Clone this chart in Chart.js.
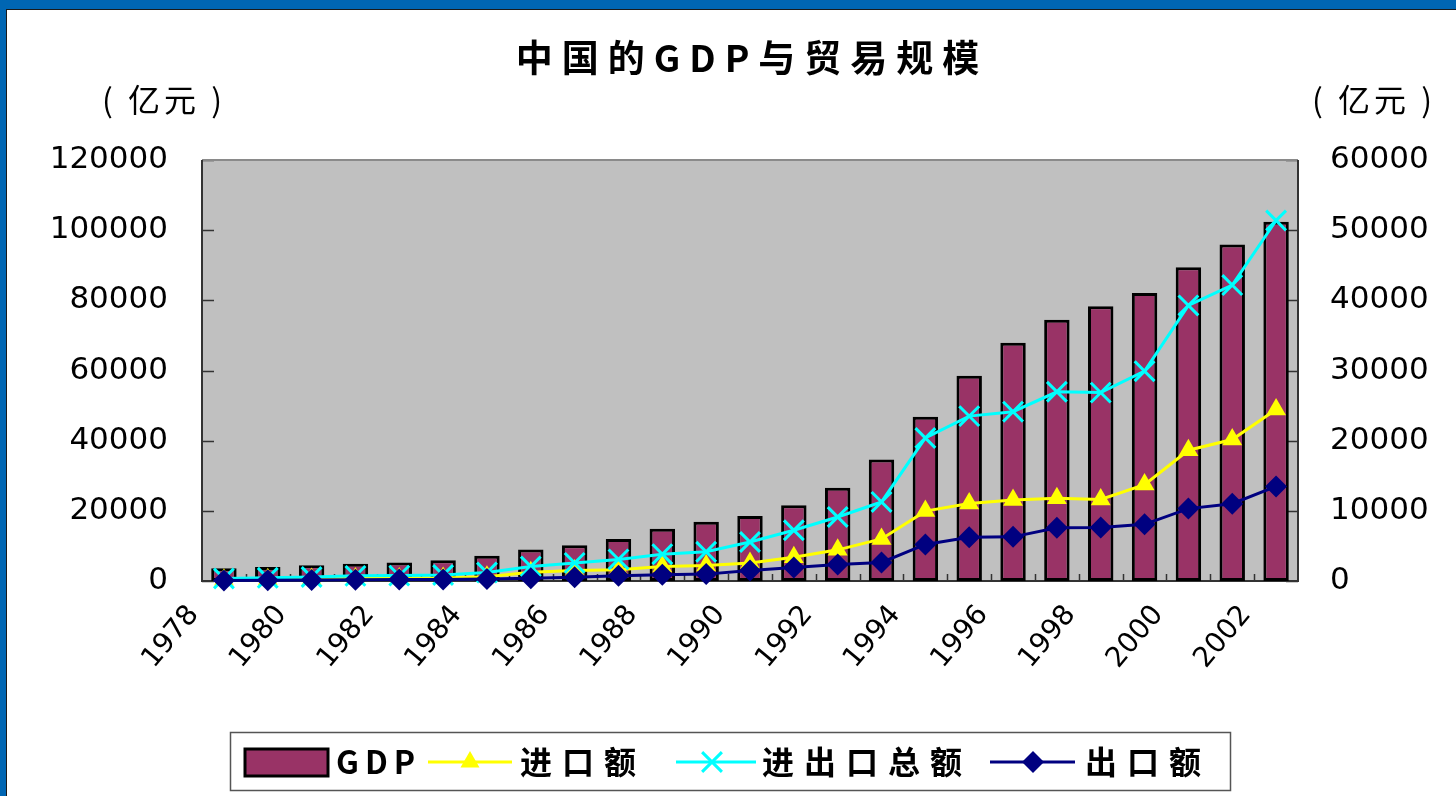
<!DOCTYPE html>
<html>
<head>
<meta charset="utf-8">
<script src="https://cdn.jsdelivr.net/npm/chart.js@4.4.1/dist/chart.umd.min.js"></script>
<style>
html,body{margin:0;padding:0;background:#fff;overflow:hidden;}
#c{display:block;}
</style>
</head>
<body>
<canvas id="c" width="1456" height="796"></canvas>
<script>
// ---- data ----
const years = ['1978','1979','1980','1981','1982','1983','1984','1985','1986','1987','1988','1989','1990','1991','1992','1993','1994','1995','1996','1997','1998','1999','2000','2001','2002'];
const gdp = [3600, 4000, 4500, 4900, 5300, 5900, 7200, 9000, 10200, 12000, 14900, 16900, 18500, 21600, 26600, 34600, 46800, 58500, 67900, 74500, 78300, 82100, 89400, 95900, 102400];
const imports = [190, 240, 300, 370, 360, 420, 620, 1260, 1500, 1610, 2060, 2200, 2570, 3400, 4440, 5990, 9960, 11050, 11560, 11810, 11630, 13740, 18640, 20160, 24430];
const totalTrade = [355, 455, 570, 735, 770, 860, 1200, 2070, 2580, 3080, 3820, 4160, 5560, 7230, 9120, 11270, 20380, 23500, 24130, 26970, 26850, 29900, 39270, 42180, 51380];
const exportsV = [170, 210, 270, 370, 410, 440, 580, 810, 1080, 1470, 1770, 1960, 2990, 3830, 4680, 5280, 10420, 12450, 12580, 15160, 15220, 16160, 20630, 22020, 26950];
const titleText = '中国的GDP与贸易规模';
const unitText = '( 亿元 )';
const seriesNames = ['GDP', '进口额', '进出口总额', '出口额'];

const C_BAR = '#993366', C_IMP = '#FFFF00', C_TOT = '#00FFFF', C_EXP = '#000080';
const CJK = '"Noto Sans CJK SC", "Noto Sans", sans-serif';

function drawMarker(ctx, style, x, y, r, color) {
  ctx.save();
  ctx.fillStyle = color; ctx.strokeStyle = color;
  ctx.beginPath();
  if (style === 'triangle') {
    ctx.moveTo(x, y - r);
    ctx.lineTo(x + r * Math.sin(Math.PI/3), y + r/2);
    ctx.lineTo(x - r * Math.sin(Math.PI/3), y + r/2);
    ctx.closePath(); ctx.fill();
  } else if (style === 'rectRot') {
    ctx.moveTo(x, y - r); ctx.lineTo(x + r, y); ctx.lineTo(x, y + r); ctx.lineTo(x - r, y);
    ctx.closePath(); ctx.fill();
  } else if (style === 'crossRot') {
    const d = r * Math.SQRT1_2;
    ctx.lineWidth = 3;
    ctx.moveTo(x - d, y - d); ctx.lineTo(x + d, y + d);
    ctx.moveTo(x + d, y - d); ctx.lineTo(x - d, y + d);
    ctx.stroke();
  }
  ctx.restore();
}

const decor = {
  id: 'decor',
  beforeDraw(chart) {
    const ctx = chart.ctx;
    ctx.save();
    ctx.fillStyle = '#0066B3';
    ctx.fillRect(0, 0, 1456, 796);
    ctx.fillStyle = '#1a1a1a';
    ctx.fillRect(6, 9, 1450, 787);
    ctx.fillStyle = '#ffffff';
    ctx.fillRect(7, 10, 1449, 786);
    // title
    ctx.fillStyle = '#000';
    ctx.font = 'bold 37px ' + CJK;
    ctx.letterSpacing = '9px';
    ctx.textAlign = 'center';
    ctx.textBaseline = 'middle';
    ctx.fillText(titleText, 752, 58);
    // units
    ctx.font = '32px ' + CJK;
    ctx.letterSpacing = '4px';
    ctx.fillText(unitText, 164, 100);
    ctx.fillText(unitText, 1374, 100);
    ctx.restore();
  },
  beforeDatasetsDraw(chart) {
    const ctx = chart.ctx, a = chart.chartArea;
    ctx.save();
    ctx.fillStyle = '#C0C0C0';
    ctx.fillRect(a.left, a.top, a.right - a.left, a.bottom - a.top);
    // tick marks from the scales
    ctx.strokeStyle = '#333';
    ctx.lineWidth = 1.5;
    const yS = chart.scales.y, y1S = chart.scales.y1, xS = chart.scales.x;
    yS.ticks.forEach((t) => {
      const p = Math.round(yS.getPixelForValue(t.value)) + 0.5;
      ctx.beginPath(); ctx.moveTo(a.left, p); ctx.lineTo(a.left + 12, p); ctx.stroke();
    });
    y1S.ticks.forEach((t) => {
      const p = Math.round(y1S.getPixelForValue(t.value)) + 0.5;
      ctx.beginPath(); ctx.moveTo(a.right, p); ctx.lineTo(a.right - 12, p); ctx.stroke();
    });
    for (let i = 1; i < years.length; i++) {
      const p = Math.round((xS.getPixelForValue(i - 1) + xS.getPixelForValue(i)) / 2) + 0.5;
      ctx.beginPath(); ctx.moveTo(p, a.bottom); ctx.lineTo(p, a.bottom - 7); ctx.stroke();
    }
    // frame
    ctx.lineWidth = 2;
    ctx.strokeStyle = '#8a8a8a';
    ctx.beginPath(); ctx.moveTo(a.left, a.top); ctx.lineTo(a.right, a.top); ctx.stroke();
    ctx.strokeStyle = '#333';
    ctx.beginPath();
    ctx.moveTo(a.left, a.top); ctx.lineTo(a.left, a.bottom); ctx.lineTo(a.right, a.bottom); ctx.lineTo(a.right, a.top);
    ctx.stroke();
    ctx.restore();
  },
  afterDraw(chart) {
    const ctx = chart.ctx;
    ctx.save();
    // legend box
    ctx.fillStyle = '#fff';
    ctx.fillRect(230, 732, 1000, 58);
    ctx.strokeStyle = '#555';
    ctx.lineWidth = 1.5;
    ctx.strokeRect(230.5, 732.5, 1000, 58);
    const cy = 762;
    // GDP swatch
    ctx.fillStyle = C_BAR;
    ctx.fillRect(245, 749, 83, 27);
    ctx.strokeStyle = '#000'; ctx.lineWidth = 3;
    ctx.strokeRect(245, 749, 83, 27);
    ctx.fillStyle = '#000';
    ctx.font = 'bold 32px ' + CJK;
    ctx.textAlign = 'left'; ctx.textBaseline = 'middle';
    ctx.letterSpacing = '6px';
    ctx.fillText(seriesNames[0], 336, cy);
    // line items
    const items = [
      {x0: 428, x1: 512, m: 470, style: 'triangle', r: 11, c: C_IMP, tx: 520, name: seriesNames[1]},
      {x0: 676, x1: 756, m: 712, style: 'crossRot', r: 14, c: C_TOT, tx: 762, name: seriesNames[2]},
      {x0: 990, x1: 1075, m: 1033, style: 'rectRot', r: 11, c: C_EXP, tx: 1085, name: seriesNames[3]},
    ];
    items.forEach(it => {
      ctx.strokeStyle = it.c; ctx.lineWidth = 3;
      ctx.beginPath(); ctx.moveTo(it.x0, cy); ctx.lineTo(it.x1, cy); ctx.stroke();
      drawMarker(ctx, it.style, it.m, cy, it.r, it.c);
      ctx.fillStyle = '#000';
      ctx.letterSpacing = '10px';
      ctx.fillText(it.name, it.tx, cy);
    });
    ctx.restore();
  }
};

const tickFont = {family: '"DejaVu Sans", sans-serif', size: 31};
const plainNum = (v) => String(v);

new Chart(document.getElementById('c'), {
  data: {
    labels: years,
    datasets: [
      {type: 'line', label: seriesNames[3], data: exportsV, yAxisID: 'y', order: 1,
        borderColor: C_EXP, backgroundColor: C_EXP, borderWidth: 3, tension: 0,
        pointStyle: 'rectRot', pointRadius: 11, pointBorderWidth: 0, pointBackgroundColor: C_EXP, clip: false},
      {type: 'line', label: seriesNames[2], data: totalTrade, yAxisID: 'y1', order: 2,
        borderColor: C_TOT, backgroundColor: C_TOT, borderWidth: 3, tension: 0,
        pointStyle: 'crossRot', pointRadius: 14, pointBorderWidth: 3, pointBorderColor: C_TOT, clip: false},
      {type: 'line', label: seriesNames[1], data: imports, yAxisID: 'y1', order: 3,
        borderColor: C_IMP, backgroundColor: C_IMP, borderWidth: 3, tension: 0,
        pointStyle: 'triangle', pointRadius: 11.5, pointBorderWidth: 0, pointBackgroundColor: C_IMP, clip: false},
      {type: 'bar', label: seriesNames[0], data: gdp, yAxisID: 'y', order: 4,
        backgroundColor: C_BAR, borderColor: '#000', borderWidth: 3, borderSkipped: false,
        categoryPercentage: 1, barPercentage: 0.58}
    ]
  },
  options: {
    responsive: false,
    animation: false,
    events: [],
    layout: {padding: {top: 160, left: 0, right: 0, bottom: 0}},
    plugins: {legend: {display: false}, tooltip: {enabled: false}, title: {display: false}},
    scales: {
      x: {
        offset: true,
        grid: {display: false, drawTicks: false},
        border: {display: false},
        ticks: {
          autoSkip: false, maxRotation: 50, minRotation: 50,
          color: '#000', font: {family: '"DejaVu Sans", sans-serif', size: 28},
          padding: 18, labelOffset: -30,
          callback: function(v, i) { return i % 2 === 0 ? years[i] : ''; }
        },
        afterFit(s) { s.height = 215; }
      },
      y: {
        position: 'left', min: 0, max: 120000,
        grid: {display: false, drawTicks: false},
        border: {display: false},
        ticks: {stepSize: 20000, color: '#000', font: tickFont, padding: 34, callback: plainNum},
        afterFit(s) { s.width = 202; }
      },
      y1: {
        position: 'right', min: 0, max: 60000,
        grid: {display: false, drawTicks: false},
        border: {display: false},
        ticks: {stepSize: 10000, color: '#000', font: tickFont, padding: 32, callback: plainNum},
        afterFit(s) { s.width = 158; }
      }
    }
  },
  plugins: [decor]
});
</script>
</body>
</html>
